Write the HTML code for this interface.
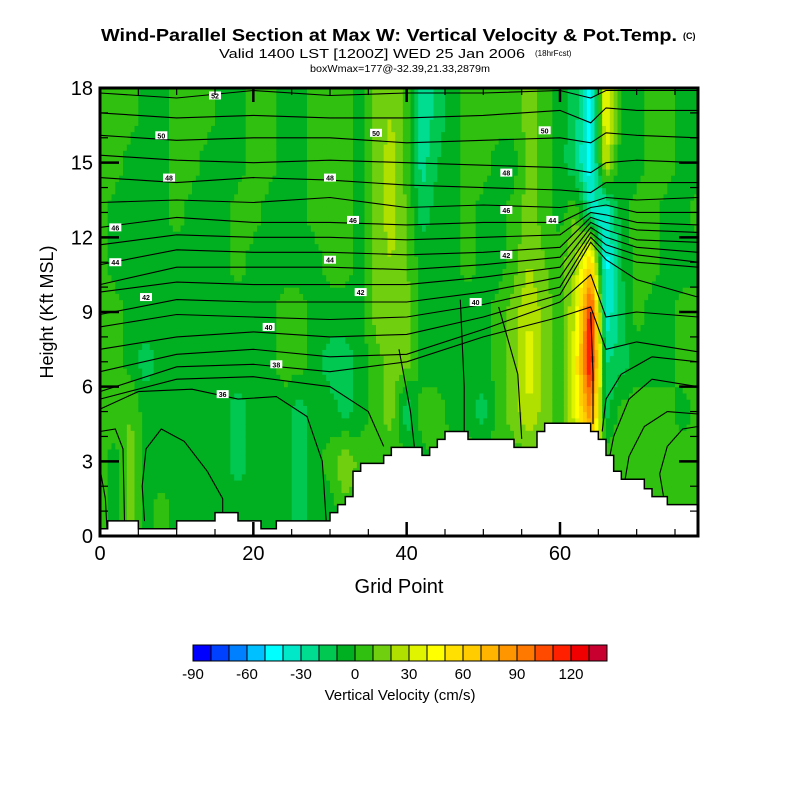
<!DOCTYPE html>
<html><head><meta charset="utf-8"><style>
html,body{margin:0;padding:0;background:#fff;}
svg{display:block;font-family:"Liberation Sans",Arial,sans-serif;}
</style></head><body>
<svg id="chart" width="800" height="800" viewBox="0 0 800 800" xmlns="http://www.w3.org/2000/svg">
<text x="389" y="41" text-anchor="middle" font-size="17.5" font-weight="bold" textLength="576" lengthAdjust="spacingAndGlyphs">Wind-Parallel Section at Max W: Vertical Velocity &amp; Pot.Temp.</text>
<text x="683" y="39" font-size="9" font-weight="bold">(C)</text>
<text x="372" y="58" text-anchor="middle" font-size="13" textLength="306" lengthAdjust="spacingAndGlyphs">Valid 1400 LST [1200Z] WED 25 Jan 2006</text>
<text x="535" y="56" font-size="8">(18hrFcst)</text>
<text x="400" y="72" text-anchor="middle" font-size="10.5" textLength="180" lengthAdjust="spacingAndGlyphs">boxWmax=177@-32.39,21.33,2879m</text>
<g id="field"></g>
<g id="contours"></g>
<g id="terrain"></g>
<g id="labels"></g>
<g id="axes"></g>
<text x="399" y="593" text-anchor="middle" font-size="20">Grid Point</text>
<text transform="translate(53,312) rotate(-90)" text-anchor="middle" font-size="18">Height (Kft MSL)</text>
<g id="cbar"></g>
<text x="400" y="700" text-anchor="middle" font-size="15">Vertical Velocity (cm/s)</text>
</svg>
<script>
// ---- data ----
const colorBins = ["#0000ff","#0040ff","#0080ff","#00c0ff","#00ffff","#00e8c8","#00dc90","#00c850","#00b020","#30c010","#70d010","#b0e000","#e0f400","#ffff00","#ffe000","#ffcc00","#ffb400","#ff9600","#ff7800","#ff4a00","#ff2000","#f00000","#c80030"];
const cbarTicks = [-90,-60,-30,0,30,60,90,120];
const xTicks = [0,20,40,60];
const yTicks = [0,3,6,9,12,15,18];
const nodeX = [0,2,4,6,8,10,12,14,16,18,20,22,24,26,28,30,32,34,36,38,40,42,44,46,48,50,52,54,56,58,60,62,64,66,68,70,72,74,76,78];
const nodeY = [1,3,5,7,9,11,13,15,17];
const w1  = [5,-5,15,-5,5,-5,-5,-5,-5,-5,-5,-5,-5,-15,-5,-5,5,5,5,5,5,5,5,5,5,5,5,5,5,5,5,5,40,10,5,5,5,5,5,5];
const w3  = [5,-5,15,-5,-5,-5,-5,-5,-5,-15,-5,-5,-5,-15,-5,5,20,5,5,5,5,-5,5,5,5,5,5,5,5,5,5,5,60,10,5,10,5,5,5,5];
const w5  = [5,5,10,-5,-5,-5,-5,-5,-5,-15,-5,-5,-5,-15,-5,-5,-15,-5,5,15,-20,5,5,-5,-5,-15,5,15,30,15,5,40,90,-15,5,5,5,5,-5,5];
const w7  = [5,5,-5,-15,-5,-5,-5,-5,-5,-5,-5,-5,5,5,-5,-15,-15,-5,5,15,15,-5,-5,-5,-5,-5,5,15,35,15,5,40,130,-20,-15,-5,-5,-5,5,5];
const w9  = [5,5,-5,-5,-5,-5,-5,-5,-5,-5,-5,-5,5,5,-5,-5,-5,-5,15,20,15,-5,-5,-5,-5,-5,5,15,30,15,5,30,120,-40,-15,5,-5,-5,5,5];
const w11 = [5,-5,-5,-5,-5,-5,-5,-5,-5,5,-5,-5,-5,-5,-5,5,5,-5,15,20,10,-5,-5,-5,5,-5,-5,5,20,10,5,20,60,-45,-10,5,5,-5,-5,-5];
const w13 = [5,-5,-5,-5,-5,5,-5,-5,-5,5,5,-5,-5,-5,5,5,5,-5,15,25,10,-15,-5,-5,5,-5,-5,5,15,5,-5,10,-30,-40,-5,5,5,-5,-5,5];
const w15 = [5,5,-5,-5,-5,5,5,-5,-5,-5,5,5,-5,-5,5,5,5,-5,15,25,5,-25,-10,-5,5,5,-5,-5,15,5,-5,-20,-50,30,-5,-5,5,5,-5,-5];
const w17 = [5,5,5,-5,-5,5,5,5,-5,-5,5,5,-5,-5,5,5,5,-5,15,20,5,-30,-15,-5,5,5,5,5,15,5,-5,-15,-50,45,-5,-5,5,5,-5,-5];
const terrainH = [0.29,0.61,0.61,0.61,0.61,0.29,0.29,0.29,0.29,0.29,0.61,0.61,0.61,0.61,0.61,0.94,0.94,0.94,0.61,0.61,0.61,0.29,0.29,0.61,0.61,0.61,0.61,0.61,0.61,0.61,0.94,1.26,1.58,2.6,2.92,2.92,2.92,3.24,3.56,3.56,3.56,3.56,3.24,3.56,3.88,4.2,4.2,4.2,3.88,3.88,3.88,3.88,3.88,3.88,3.56,3.56,3.56,4.2,4.53,4.53,4.53,4.53,4.53,4.53,4.2,3.88,3.24,2.6,2.28,2.28,2.28,1.9,1.58,1.58,1.26,1.26,1.26,1.26];
const lineX = [0,10,20,30,40,50,60,64,66,70,78];
const th1 = [17.8,17.6,17.9,17.7,17.8,17.8,17.9,17.6,17.9,17.9,17.9];
const th2 = [17.0,16.8,16.9,16.8,16.8,16.9,17.1,16.6,17.2,17.1,17.1];
const th3 = [16.1,15.9,16.0,16.0,15.8,15.9,16.0,15.8,16.2,16.1,16.0];
const th4 = [15.3,15.1,15.0,15.1,15.0,14.9,14.8,14.6,15.0,15.1,15.0];
const th5 = [14.4,14.2,14.4,14.3,14.1,14.0,13.9,13.8,14.2,14.2,14.2];
const th6 = [13.4,13.5,13.4,13.6,13.2,13.3,13.2,13.4,13.6,13.5,13.6];
const th7 = [12.4,12.8,12.6,12.6,12.5,12.6,12.6,13.2,13.3,13.0,13.0];
const th8 = [11.7,12.1,12.0,12.0,11.9,12.0,12.1,13.0,12.9,12.6,12.5];
const th9 = [10.9,11.5,11.4,11.4,11.3,11.4,11.6,12.8,12.6,12.3,12.2];
const th10 = [10.1,10.8,10.8,10.8,10.7,10.9,11.2,12.6,12.3,11.9,11.8];
const th11 = [9.8,10.2,10.1,10.1,10.1,10.4,10.8,12.4,12.0,11.6,11.4];
const th12 = [8.9,9.5,9.4,9.4,9.4,9.8,10.4,12.2,11.7,11.3,11.0];
const th13 = [8.4,8.9,8.8,8.7,8.8,9.3,10.0,12.0,11.4,11.0,10.8];
const th14 = [7.5,8.0,8.2,8.0,8.1,8.8,9.7,11.8,11.1,10.3,9.6];
const th15 = [6.6,7.3,7.5,7.2,7.3,8.3,9.4,10.5,8.8,9.0,8.8];
const th16 = [5.8,6.8,6.9,6.6,7.0,8.0,8.8,9.2,7.5,7.8,7.4];
// free-form contour segments: [x, height] pairs
const seg1 = [[0,5.5],[10,6.3],[20,6.4],[30,6.0],[35,5.0],[37,3.6]];
const seg2 = [[0,5.1],[5,5.8],[12,5.9],[18,5.5],[23,5.6],[27,4.8],[29,3.0],[29.5,0.6]];
const seg3 = [[78,7.0],[72,7.2],[68,6.5],[66,5.5],[65.5,4.2]];
const seg4 = [[78,6.0],[72,6.3],[69,5.5],[67,4.0],[66.5,3.2]];
const seg5 = [[78,4.9],[74,5.0],[71,4.4],[69,3.2],[68.5,2.3]];
const seg6 = [[78,4.4],[76,4.3],[74,3.6],[73,2.5],[73.5,1.6]];
const seg7 = [[0,4.2],[2,4.3],[3,3.5],[3.2,0.6]];
const seg8 = [[0,2.7],[0.7,1.5],[0.9,0.3]];
const seg9 = [[5.8,0.6],[5.5,2.0],[6,3.5],[8,4.3],[11,3.8],[14,2.6],[16,1.5],[16,0.9]];
const seg10 = [[39,7.5],[40.5,5.0],[41,3.6]];
const seg11 = [[47,9.5],[47.5,6.0],[47.5,4.2]];
const seg12 = [[52,9.2],[54.5,6.5],[55,3.9]];
const seg13 = [[64,9.0],[64.3,6.5],[64.3,4.5]];
const contourLevels = ["52","50","50","50","48","48","48","46","46","46","44","44","44","42","42","42","40","40","38","36"];
const labelGX = [15,8,36,58,9,30,53,2,33,53,2,30,59,6,34,53,22,49,23,16];
const labelH = [17.7,16.1,16.2,16.3,14.4,14.4,14.6,12.4,12.7,13.1,11.0,11.1,12.7,9.6,9.8,11.3,8.4,9.4,6.9,5.7];

// ---- scales ----
const X0=100,X1=698,Y0=536,Y1=88,XMAX=78,HMAX=18;
const sx = g => X0 + g*(X1-X0)/XMAX;
const sy = h => Y0 - h*(Y0-Y1)/HMAX;
const NS="http://www.w3.org/2000/svg";
function mk(tag, attrs, parent){const e=document.createElementNS(NS,tag);for(const k in attrs)e.setAttribute(k,attrs[k]);parent.appendChild(e);return e;}
function colorFor(v){let i=Math.floor((v+90)/10);i=Math.max(0,Math.min(colorBins.length-1,i));return colorBins[i];}

// ---- field ----
const rows=[w1,w3,w5,w7,w9,w11,w13,w15,w17];
function sample(x,h){
  let fx=(x-nodeX[0])/(nodeX[1]-nodeX[0]);fx=Math.max(0,Math.min(nodeX.length-1,fx));
  let fy=(h-nodeY[0])/(nodeY[1]-nodeY[0]);fy=Math.max(0,Math.min(nodeY.length-1,fy));
  const i0=Math.min(Math.floor(fx),nodeX.length-2),j0=Math.min(Math.floor(fy),nodeY.length-2);
  const tx=fx-i0,ty=fy-j0;
  const a=rows[j0][i0],b=rows[j0][i0+1],c=rows[j0+1][i0],d=rows[j0+1][i0+1];
  return (a*(1-tx)+b*tx)*(1-ty)+(c*(1-tx)+d*tx)*ty;
}
const field=document.getElementById('field');
const DX=0.5,DH=0.25;
for(let gx=0;gx<XMAX;gx+=DX){
  for(let h=0;h<HMAX;h+=DH){
    const v=sample(gx+DX/2,h+DH/2);
    const r=mk('rect',{x:sx(gx).toFixed(2),y:sy(h+DH).toFixed(2),width:(sx(gx+DX)-sx(gx)+0.6).toFixed(2),height:(sy(h)-sy(h+DH)+0.6).toFixed(2),fill:colorFor(v)},field);
    
    
  }
}

// ---- contours ----
const cg=document.getElementById('contours');
[th1,th2,th3,th4,th5,th6,th7,th8,th9,th10,th11,th12,th13,th14,th15,th16].forEach(arr=>{
  const pts=arr.map((h,i)=>sx(lineX[i]).toFixed(1)+','+sy(h).toFixed(1)).join(' ');
  const p=mk('polyline',{points:pts,fill:'none',stroke:'#000','stroke-width':1.1},cg);
  
  
});
[seg1,seg2,seg3,seg4,seg5,seg6,seg7,seg8,seg9,seg10,seg11,seg12,seg13].forEach(arr=>{
  const pts=arr.map(p=>sx(p[0]).toFixed(1)+','+sy(p[1]).toFixed(1)).join(' ');
  const p=mk('polyline',{points:pts,fill:'none',stroke:'#000','stroke-width':1.1},cg);
  
  
});

// ---- terrain ----
const tg=document.getElementById('terrain');
let d='M'+sx(0)+','+sy(0);
terrainH.forEach((h,i)=>{d+=' L'+sx(i).toFixed(2)+','+sy(h).toFixed(2)+' L'+sx(i+1).toFixed(2)+','+sy(h).toFixed(2);});
d+=' L'+sx(XMAX)+','+sy(0)+' Z';
const tp=mk('path',{d:d,fill:'#fff',stroke:'#000','stroke-width':1.5},tg);



// ---- contour labels ----
const lg=document.getElementById('labels');
contourLevels.forEach((t,i)=>{
  const cx=sx(labelGX[i]),cy=sy(labelH[i]);
  const r=mk('rect',{x:cx-6,y:cy-4,width:12,height:8,fill:'#fff'},lg);
  
  
  const tx=mk('text',{x:cx,y:cy+3,'text-anchor':'middle','font-size':7,'font-weight':'bold'},lg);
  tx.textContent=t;
  
  
});

// ---- axes ----
const ag=document.getElementById('axes');
for(let g=5;g<XMAX;g+=5){
  const L=(g%20===0)?14:7;
  mk('line',{x1:sx(g),y1:Y0,x2:sx(g),y2:Y0-L,stroke:'#000','stroke-width':(g%20===0)?2.5:1.2},ag);
  mk('line',{x1:sx(g),y1:Y1,x2:sx(g),y2:Y1+L,stroke:'#000','stroke-width':(g%20===0)?2.5:1.2},ag);
}
for(let h=1;h<HMAX;h++){
  const L=(h%3===0)?19:8;
  mk('line',{x1:X0,y1:sy(h),x2:X0+L,y2:sy(h),stroke:'#000','stroke-width':(h%3===0)?2.5:1.2},ag);
  mk('line',{x1:X1,y1:sy(h),x2:X1-L,y2:sy(h),stroke:'#000','stroke-width':(h%3===0)?2.5:1.2},ag);
}
const fr=mk('rect',{x:X0,y:Y1,width:X1-X0,height:Y0-Y1,fill:'none',stroke:'#000','stroke-width':3},ag);


xTicks.forEach(v=>{
  const t=mk('text',{x:sx(v),y:560,'text-anchor':'middle','font-size':20},ag);
  t.textContent=v;
  
  
});
yTicks.forEach(v=>{
  const t=mk('text',{x:93,y:sy(v)+7,'text-anchor':'end','font-size':20},ag);
  t.textContent=v;
  
  
});

// ---- colorbar ----
const cb=document.getElementById('cbar');
const CB0=193,CBW=18,CBY=645,CBH=16;
colorBins.forEach((c,i)=>{
  const r=mk('rect',{x:CB0+i*CBW,y:CBY,width:CBW,height:CBH,fill:c,stroke:'#000','stroke-width':1},cb);
  
  
});
cbarTicks.forEach(v=>{
  const t=mk('text',{x:CB0+(v+90)/10*CBW,y:679,'text-anchor':'middle','font-size':15},cb);
  t.textContent=v;
  
  
});
</script>
</body></html>
